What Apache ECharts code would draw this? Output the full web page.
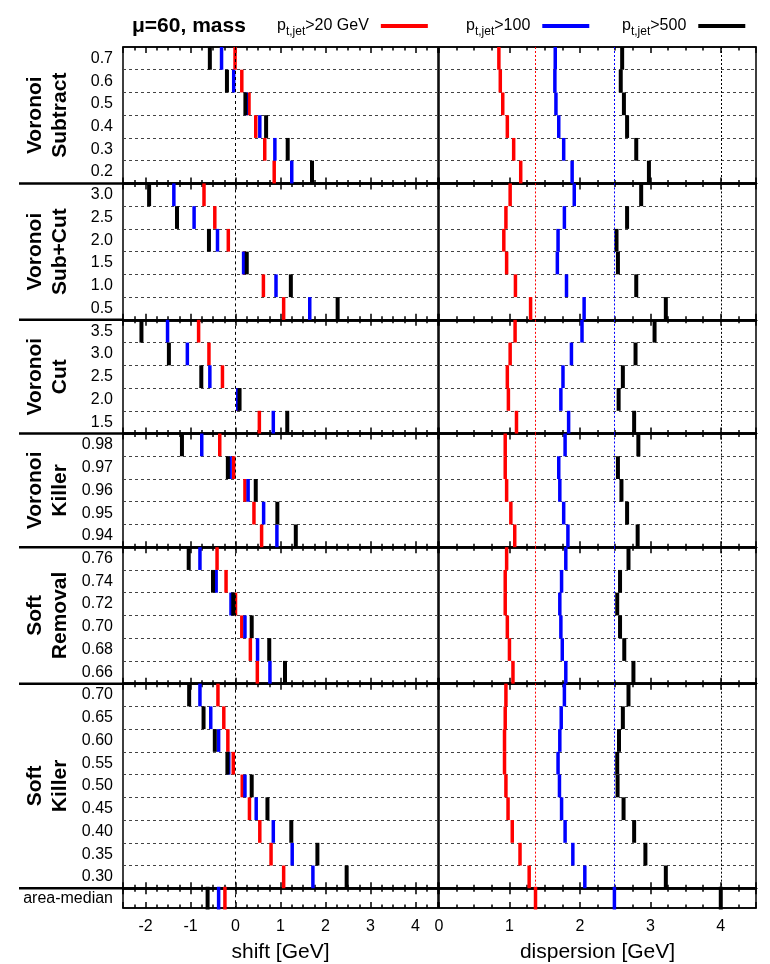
<!DOCTYPE html>
<html>
<head>
<meta charset="utf-8">
<script src="https://cdn.jsdelivr.net/npm/echarts@6/dist/echarts.min.js"></script>
<style>
  body { margin: 0; background: #fff; }
  #chart { width: 770px; height: 964px; }
</style>
</head>
<body>
<div id="chart"></div>
<script>
// groups, top to bottom
const groupNames = ['Voronoi\nSubtract', 'Voronoi\nSub+Cut', 'Voronoi\nCut', 'Voronoi\nKiller', 'Soft\nRemoval', 'Soft\nKiller', ''];
const rowLabels = [
  ['0.7', '0.6', '0.5', '0.4', '0.3', '0.2'],
  ['3.0', '2.5', '2.0', '1.5', '1.0', '0.5'],
  ['3.5', '3.0', '2.5', '2.0', '1.5'],
  ['0.98', '0.97', '0.96', '0.95', '0.94'],
  ['0.76', '0.74', '0.72', '0.70', '0.68', '0.66'],
  ['0.70', '0.65', '0.60', '0.55', '0.50', '0.45', '0.40', '0.35', '0.30'],
  ['area-median']
];

// shift [GeV]
const shift20 = [
  [-0.01, 0.14, 0.30, 0.45, 0.65, 0.86],
  [-0.70, -0.46, -0.16, 0.19, 0.62, 1.07],
  [-0.82, -0.59, -0.29, 0.05, 0.53],
  [-0.35, -0.04, 0.21, 0.41, 0.58],
  [-0.41, -0.21, 0.00, 0.14, 0.33, 0.485],
  [-0.39, -0.26, -0.17, -0.05, 0.15, 0.31, 0.54, 0.79, 1.07],
  [-0.235]
];
const shift100 = [
  [-0.31, -0.04, 0.24, 0.54, 0.875, 1.25],
  [-1.37, -0.92, -0.40, 0.18, 0.90, 1.65],
  [-1.51, -1.07, -0.57, 0.05, 0.84],
  [-0.75, -0.12, 0.28, 0.625, 0.92],
  [-0.79, -0.43, -0.10, 0.21, 0.49, 0.765],
  [-0.79, -0.55, -0.375, -0.15, 0.21, 0.46, 0.84, 1.26, 1.72],
  [-0.375]
];
const shift500 = [
  [-0.57, -0.19, 0.22, 0.68, 1.16, 1.70],
  [-1.92, -1.30, -0.59, 0.25, 1.23, 2.27],
  [-2.09, -1.48, -0.76, 0.09, 1.15],
  [-1.19, -0.17, 0.45, 0.93, 1.34],
  [-1.04, -0.50, -0.05, 0.36, 0.75, 1.10],
  [-1.03, -0.71, -0.46, -0.18, 0.36, 0.71, 1.24, 1.82, 2.47],
  [-0.62]
];

// dispersion [GeV]
const disp20 = [
  [0.85, 0.87, 0.905, 0.97, 1.06, 1.16],
  [1.01, 0.95, 0.92, 0.96, 1.085, 1.30],
  [1.08, 1.01, 0.97, 0.985, 1.10],
  [0.94, 0.94, 0.96, 1.02, 1.075],
  [0.96, 0.94, 0.94, 0.97, 1.00, 1.05],
  [0.95, 0.94, 0.93, 0.93, 0.95, 0.98, 1.04, 1.15, 1.28],
  [1.37]
];
const disp100 = [
  [1.65, 1.645, 1.66, 1.70, 1.77, 1.89],
  [1.92, 1.78, 1.69, 1.68, 1.81, 2.06],
  [2.03, 1.88, 1.76, 1.73, 1.84],
  [1.79, 1.70, 1.715, 1.77, 1.83],
  [1.80, 1.74, 1.715, 1.73, 1.75, 1.80],
  [1.78, 1.735, 1.715, 1.69, 1.71, 1.74, 1.79, 1.90, 2.07],
  [2.49]
];
const disp500 = [
  [2.60, 2.58, 2.625, 2.67, 2.80, 2.98],
  [2.87, 2.67, 2.52, 2.54, 2.80, 3.22],
  [3.06, 2.79, 2.61, 2.55, 2.77],
  [2.83, 2.54, 2.59, 2.67, 2.82],
  [2.69, 2.57, 2.53, 2.57, 2.63, 2.76],
  [2.69, 2.61, 2.555, 2.53, 2.535, 2.62, 2.77, 2.93, 3.22],
  [4.00]
];

const seriesNames = ['pt20', 'pt100', 'pt500'];
const legendText = {
  pt20: '{p|p}{s|t,jet}{p|>20 GeV}{g| }',
  pt100: '{p|p}{s|t,jet}{p|>100}{g| }',
  pt500: '{p|p}{s|t,jet}{p|>500}{g| }'
};
const colors = ['#ff0000', '#0000ff', '#000000'];

// layout
const PLOT_TOP = 47, PLOT_BOTTOM = 911;
const totalRows = rowLabels.reduce((s, r) => s + r.length, 0);
const rowH = (PLOT_BOTTOM - PLOT_TOP) / totalRows;

const panels = [
  { left: 123, right: 438, min: -2.5, max: 4.5, name: 'shift [GeV]', data: [shift20, shift100, shift500], showMin: false },
  { left: 439, right: 756, min: 0, max: 4.5, name: 'dispersion [GeV]', data: [disp20, disp100, disp500], showMin: true }
];

const grid = [], xAxis = [], yAxis = [], series = [], graphic = [];
const nG = rowLabels.length;

panels.forEach((p, pi) => {
  let start = 0;
  rowLabels.forEach((rows, g) => {
    const gi = grid.length;
    const top = PLOT_TOP + start * rowH;
    grid.push({
      left: p.left, width: p.right - p.left, top: top, height: rows.length * rowH,
      show: true, borderColor: '#000', borderWidth: 1.5, backgroundColor: 'transparent'
    });
    const isFirst = g === 0, isLast = g === nG - 1;
    const axisBase = {
      gridIndex: gi, type: 'value', min: p.min, max: p.max,
      axisTick: { show: true, inside: true, length: 6, lineStyle: { color: '#000', width: 1.5 } },
      minorTick: { show: true, splitNumber: 4, length: 3.5, lineStyle: { color: '#000', width: 1.5 } },
      splitLine: { show: false }, minorSplitLine: { show: false }
    };
    xAxis.push(Object.assign({}, axisBase, {
      position: 'top',
      axisLine: { show: true, lineStyle: { color: '#000', width: isFirst ? 1.5 : 2.5 } },
      axisLabel: { show: false }
    }));
    xAxis.push(Object.assign({}, axisBase, {
      position: 'bottom',
      axisLine: { show: true, lineStyle: { color: '#000', width: isLast ? 1.5 : 2.5 } },
      axisLabel: {
        show: isLast, color: '#000', fontSize: 16, margin: 11,
        showMinLabel: p.showMin, showMaxLabel: false
      },
      name: isLast ? p.name : '', nameLocation: 'middle', nameGap: 34,
      nameTextStyle: { color: '#000', fontSize: 21 }
    }));
    yAxis.push({
      gridIndex: gi, type: 'category', inverse: true, data: rows,
      axisLine: { show: false }, axisTick: { show: false },
      axisLabel: { show: pi === 0, color: '#000', fontSize: 16, margin: 10 },
      splitLine: { show: true, lineStyle: { color: '#444', width: 1, type: [3, 3] } },
      name: pi === 0 ? groupNames[g] : '', nameLocation: 'middle', nameRotate: 90, nameGap: 50,
      nameTextStyle: { color: '#000', fontSize: 21, fontWeight: 'bold', lineHeight: 25 }
    });
    p.data.forEach((arr, si) => {
      const s = {
        type: 'scatter', name: seriesNames[si],
        xAxisIndex: 2 * gi + 1, yAxisIndex: gi,
        symbol: 'rect', symbolSize: [si === 2 ? 4 : 3.5, rowH],
        itemStyle: { color: colors[si], opacity: 1 },
        data: arr[g].map((v, r) => [v, r]),
        silent: true, animation: false
      };
      // reference lines: zero in shift panel, area-median values in dispersion panel
      let ref = null;
      if (pi === 0 && si === 2) ref = { v: 0, c: '#000', t: [3, 3] };
      if (pi === 1) ref = { v: arr[nG - 1][0], c: colors[si], t: [2, 2] };
      if (ref) {
        s.markLine = {
          silent: true, symbol: 'none', label: { show: false }, animation: false,
          lineStyle: { color: ref.c, width: 1, type: ref.t, opacity: 1 },
          emphasis: { disabled: true },
          data: [{ xAxis: ref.v }]
        };
      }
      series.push(s);
    });
    if (pi === 0 && g > 0) {
      graphic.push({
        type: 'line', shape: { x1: 19, y1: top, x2: p.left, y2: top },
        style: { stroke: '#000', lineWidth: 2.5 }, silent: true
      });
    }
    start += rows.length;
  });
});

const legendBase = {
  top: 18, padding: 0, align: 'right', icon: 'rect', itemWidth: 47, itemHeight: 4,
  selectedMode: false,
  formatter: n => legendText[n],
  textStyle: {
    color: '#000',
    rich: {
      p: { fontSize: 16, lineHeight: 24, verticalAlign: 'middle', color: '#000' },
      s: { fontSize: 12, lineHeight: 12, verticalAlign: 'bottom', color: '#000' },
      g: { width: 7 }
    }
  }
};

const option = {
  backgroundColor: '#fff',
  animation: false,
  title: {
    text: 'μ=60, mass', left: 132, top: 16, padding: 0,
    textStyle: { fontSize: 21, fontWeight: 'bold', color: '#000' }
  },
  legend: [
    Object.assign({}, legendBase, { left: 277, data: ['pt20'] }),
    Object.assign({}, legendBase, { left: 466, data: ['pt100'] }),
    Object.assign({}, legendBase, { left: 622, data: ['pt500'] })
  ],
  grid, xAxis, yAxis, series, graphic
};

const chart = echarts.init(document.getElementById('chart'));
chart.setOption(option);
</script>
</body>
</html>
